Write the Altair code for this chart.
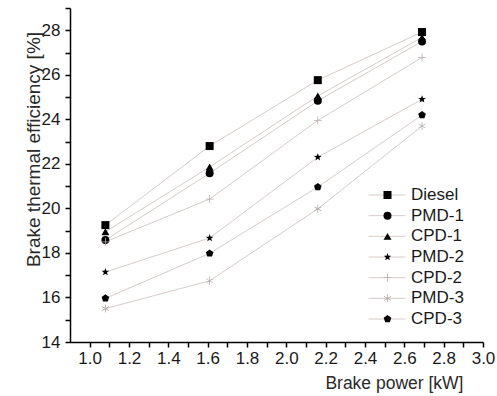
import math
import altair as alt
import pandas as pd

# ---- data ----
power = [1.08, 1.61, 2.16, 2.69]
series = ["Diesel", "PMD-1", "CPD-1", "PMD-2", "CPD-2", "PMD-3", "CPD-3"]
diesel = [19.25, 22.80, 25.76, 27.92]
pmd1 = [18.58, 21.58, 24.83, 27.50]
cpd1 = [18.95, 21.86, 25.05, 27.68]
pmd2 = [17.14, 18.67, 22.30, 24.90]
cpd2 = [18.50, 20.42, 23.95, 26.78]
pmd3 = [15.50, 16.75, 19.98, 23.70]
cpd3 = [15.96, 17.98, 20.96, 24.19]
values = [diesel, pmd1, cpd1, pmd2, cpd2, pmd3, cpd3]

# tick positions (labels only on the even ones)
x_ticks = [1.0, 1.1, 1.2, 1.3, 1.4, 1.5, 1.6, 1.7, 1.8, 1.9, 2.0,
           2.1, 2.2, 2.3, 2.4, 2.5, 2.6, 2.7, 2.8, 2.9, 3.0]
y_ticks = [14, 15, 16, 17, 18, 19, 20, 21, 22, 23, 24, 25, 26, 27, 28, 29]

# the line legend uses its own copy of the series names (trailing space keeps
# its scale domain distinct so Vega-Lite does not merge the two legends)
series_l = [s + " " for s in series]

rows = []
for s, sl, vals in zip(series, series_l, values):
    for p, v in zip(power, vals):
        rows.append({"series": s, "series_l": sl, "power": p, "eff": v})
df = pd.DataFrame(rows)

# ---- marker shapes (unit box [-1, 1]) ----
def star_path(inner=0.42):
    pts = []
    for i in range(10):
        r = 1.0 if i % 2 == 0 else inner
        a = -math.pi / 2 + i * math.pi / 5
        pts.append(f"{r*math.cos(a):.3f},{r*math.sin(a):.3f}")
    return "M" + "L".join(pts) + "Z"

def bars_path(angles, half_w=0.1):
    parts = []
    for ang in angles:
        a = math.radians(ang)
        dx, dy = math.cos(a), math.sin(a)
        nx, ny = -dy * half_w, dx * half_w
        p = [(-dx + nx, -dy + ny), (dx + nx, dy + ny), (dx - nx, dy - ny), (-dx - nx, -dy - ny)]
        parts.append("M" + "L".join(f"{x:.3f},{y:.3f}" for x, y in p) + "Z")
    return "".join(parts)

pentagon = "M0,-1L0.951,-0.309L0.588,0.809L-0.588,0.809L-0.951,-0.309Z"
plus = bars_path([90, 0])
asterisk = bars_path([90, 30, -30])

shapes = ["square", "circle", "triangle-up", star_path(), plus, asterisk, pentagon]
marker_colors = ["black", "black", "black", "black", "#b5acaa", "#b5acaa", "black"]
line_color = "#d6ccc8"

FONT = "Liberation Sans"
X_DOM = [0.9, 3.0]
Y_DOM = [14, 29]

leg_common = dict(
    title=None, orient="none", padding=0, labelFont=FONT, labelFontSize=17,
    labelColor="#1a1a1a", rowPadding=2.67, labelOffset=5, clipHeight=17,
    legendY=178.5,
)

x_enc = alt.X(
    "power:Q", title="Brake power [kW]",
    scale=alt.Scale(domain=X_DOM, nice=False, zero=False),
    axis=alt.Axis(values=x_ticks, format=".1f",
                  labelExpr="round(datum.value * 10) % 2 == 0 ? datum.label : ''",
                  ticks=True, tickSize=5, labelFlush=False, labelOverlap=False, labelPadding=3,
                  titleX=393, titleY=41, titleAlign="right", titleBaseline="middle"),
)
y_enc = alt.Y(
    "eff:Q", title="Brake thermal efficiency [%]",
    scale=alt.Scale(domain=Y_DOM, nice=False, zero=False),
    axis=alt.Axis(values=y_ticks,
                  labelExpr="datum.value % 2 == 0 ? datum.label : ''",
                  ticks=True, tickSize=5, labelOverlap=False, labelPadding=5,
                  titleX=-37, titleY=141, titleBaseline="middle", titleFontSize=19),
)

lines = alt.Chart(df).mark_line(strokeWidth=1).encode(
    x=x_enc, y=y_enc,
    stroke=alt.Stroke(
        "series_l:N",
        scale=alt.Scale(domain=series_l, range=[line_color] * len(series)),
        legend=alt.Legend(symbolType="stroke", symbolSize=37 * 37, symbolStrokeWidth=1,
                          legendX=298, **leg_common),
    ),
)

pt_legend = alt.Legend(symbolSize=64, labelExpr="''", legendX=309, **leg_common)
points = alt.Chart(df).mark_point(filled=True, size=64, opacity=1).encode(
    x=x_enc, y=y_enc,
    shape=alt.Shape("series:N", scale=alt.Scale(domain=series, range=shapes), legend=pt_legend),
    color=alt.Color("series:N", scale=alt.Scale(domain=series, range=marker_colors), legend=pt_legend),
)

chart = alt.layer(lines, points).properties(
    width=413, height=334, autosize="none",
    padding={"left": 70, "top": 8, "right": 14, "bottom": 54},
    background="white",
).configure_view(stroke=None).configure_axis(
    grid=False, domainColor="#000000", domainWidth=1.5, tickColor="#000000", tickWidth=1.5,
    labelFont=FONT, labelFontSize=17, labelColor="#1a1a1a",
    titleFont=FONT, titleFontSize=17.5, titleColor="#2a2a2a", titleFontWeight="normal",
)

chart.save("out.html", embed_options={"renderer": "svg", "actions": False})
